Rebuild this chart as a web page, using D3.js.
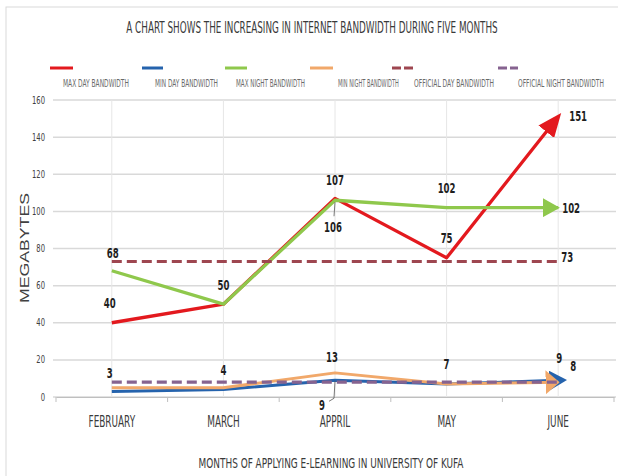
<!DOCTYPE html>
<html><head><meta charset="utf-8">
<script src="https://cdn.jsdelivr.net/npm/d3@7"></script>
<style>
html,body{margin:0;padding:0;background:#fff;}
svg{display:block;}
text{font-family:'Liberation Sans Narrow','DejaVu Sans Condensed','Arial Narrow','Liberation Sans',sans-serif;}
</style></head>
<body>
<svg id="chart" width="618" height="476"></svg>
<script>
// ---- data ----
const months = ["FEBRUARY", "MARCH", "APPRIL", "MAY", "JUNE"];
const maxDay = [40, 50, 107, 75, 151];
const minDay = [3, 4, 9, 7, 9];
const maxNight = [68, 50, 106, 102, 102];
const minNight = [5, 5, 13, 7, 8];
const officialDay = [73, 73, 73, 73, 73];
const officialNight = [8, 8, 8, 8, 8];
const seriesNames = ["MAX DAY BANDWIDTH", "MIN DAY BANDWIDTH", "MAX NIGHT BANDWIDTH",
  "MIN NIGHT BANDWIDTH", "OFFICIAL DAY BANDWIDTH", "OFFICIAL NIGHT BANDWIDTH"];
const yTicks = [0, 20, 40, 60, 80, 100, 120, 140, 160];
const titleText = "A CHART SHOWS THE INCREASING IN INTERNET BANDWIDTH DURING FIVE MONTHS";
const xTitle = "MONTHS OF APPLYING E-LEARNING IN UNIVERSITY OF KUFA";
const yTitle = "MEGABYTES";

// ---- styles / layout ----
const series = [
  {name: seriesNames[0], values: maxDay, color: "#e3191e", dash: null, width: 3.3, arrow: {len: 24, wid: 20, ref: 8}},
  {name: seriesNames[1], values: minDay, color: "#2563ad", dash: null, width: 3, arrow: {len: 18, wid: 20, ref: 5}},
  {name: seriesNames[2], values: maxNight, color: "#8fc84c", dash: null, width: 3.3, arrow: {len: 17, wid: 19, ref: 9}},
  {name: seriesNames[3], values: minNight, color: "#f1a86a", dash: null, width: 3, arrow: {len: 14, wid: 24, ref: 9}},
  {name: seriesNames[4], values: officialDay, color: "#9e4650", dash: "10,5", width: 3.2, arrow: null},
  {name: seriesNames[5], values: officialNight, color: "#866390", dash: "10,5", width: 3.2, arrow: null}
];
const legendLayout = [
  {lx: 50, lw: 23, tx: 63, tw: 66},
  {lx: 142, lw: 21, tx: 155, tw: 63},
  {lx: 225, lw: 22, tx: 236, tw: 69},
  {lx: 310, lw: 23, tx: 338, tw: 61},
  {lx: 392, lw: 21, tx: 414, tw: 80},
  {lx: 498, lw: 20, tx: 518, tw: 86}
];
// label placement: series index, point index, dx, dy (baseline), anchor, leader
const labelPlacement = [
  {s: 0, i: 0, dx: -2, dy: -15}, {s: 0, i: 1, dx: 0, dy: -14}, {s: 0, i: 2, dx: 0, dy: -13},
  {s: 0, i: 3, dx: 0, dy: -15}, {s: 0, i: 4, dx: 11, dy: 4, anchor: "start"},
  {s: 2, i: 0, dx: 1, dy: -13}, {s: 2, i: 2, dx: -2, dy: 32, leader: [[0, 2], [-1, 16]]},
  {s: 2, i: 3, dx: 0, dy: -15}, {s: 2, i: 4, dx: 4, dy: 5, anchor: "start"},
  {s: 1, i: 0, dx: -2, dy: -13}, {s: 1, i: 1, dx: 0, dy: -15},
  {s: 1, i: 2, dx: -13, dy: 30, leader: [[0, 1], [-1, 18], [-6, 21]]},
  {s: 1, i: 3, dx: 0, dy: -15}, {s: 1, i: 4, dx: 1, dy: -17},
  {s: 3, i: 2, dx: -3, dy: -11}, {s: 3, i: 4, dx: 15, dy: -11},
  {s: 4, i: 4, dx: 3, dy: 1, anchor: "start"}
];

const svg = d3.select("#chart");
// place a text at (x,y), horizontally scaled to a given width (or factor)
function place(sel, x, y, opts) {
  const node = sel.node();
  const w = node.getComputedTextLength() || 1;
  const f = opts.width ? opts.width / w : (opts.factor || 1);
  const rot = opts.rotate ? ` rotate(${opts.rotate})` : "";
  sel.attr("x", 0).attr("y", 0).attr("transform", `translate(${x},${y})${rot} scale(${f},1)`);
  return sel;
}

// chart frame
svg.append("rect").attr("x", 6).attr("y", 7).attr("width", 660).attr("height", 520)
  .attr("fill", "#fff").attr("stroke", "#d9d9d9").attr("stroke-width", 1);

const x = d3.scaleBand().domain(months).range([56, 614]);
const cx = m => x(m) + x.bandwidth() / 2;
const y = d3.scaleLinear().domain([0, 160]).range([397, 100]);

// title
place(svg.append("text").attr("text-anchor", "middle").attr("font-size", 15)
  .attr("fill", "#3a3a3a").text(titleText), 312, 33, {width: 372});

// legend
series.forEach((s, k) => {
  const L = legendLayout[k];
  svg.append("line").attr("x1", L.lx).attr("x2", L.lx + L.lw).attr("y1", 68).attr("y2", 68)
    .attr("stroke", s.color).attr("stroke-width", 3)
    .attr("stroke-dasharray", s.dash ? "9,3" : null);
  place(svg.append("text").attr("font-size", 10).attr("fill", "#6a6a6a").text(s.name),
    L.tx, 87, {width: L.tw});
});

// horizontal gridlines
svg.append("g").selectAll("line").data(yTicks).join("line")
  .attr("x1", 53).attr("x2", 616).attr("y1", d => y(d)).attr("y2", d => y(d))
  .attr("stroke", "#d9d9d9").attr("stroke-width", 1.5);
// vertical gridlines
svg.append("g").selectAll("line").data(months).join("line")
  .attr("x1", d => cx(d)).attr("x2", d => cx(d)).attr("y1", y(160)).attr("y2", y(0))
  .attr("stroke", "#e6e6e6").attr("stroke-width", 1);

// y axis labels
const yl = svg.append("g");
yTicks.forEach(t => {
  place(yl.append("text").attr("text-anchor", "end").attr("font-size", 10.5)
    .attr("fill", "#404040").text(t), 45, y(t) + 3.5, {factor: 0.72});
});

// x axis
const xAxisG = svg.append("g").attr("transform", `translate(0,${y(0)})`)
  .call(d3.axisBottom(x).tickSize(0).tickFormat(""));
xAxisG.select(".domain").attr("stroke", "#bfbfbf").attr("stroke-width", 1.2);
const bounds = [56, ...months.slice(1).map(m => x(m)), 614];
svg.append("g").selectAll("line").data(bounds).join("line")
  .attr("x1", d => d).attr("x2", d => d).attr("y1", y(0)).attr("y2", y(0) + 5)
  .attr("stroke", "#bfbfbf").attr("stroke-width", 1);
const xl = svg.append("g");
months.forEach(m => {
  place(xl.append("text").attr("text-anchor", "middle").attr("font-size", 15)
    .attr("fill", "#3a3a3a").text(m), cx(m), 427, {factor: 0.66});
});

// axis titles
place(svg.append("text").attr("text-anchor", "middle").attr("font-size", 14)
  .attr("fill", "#3a3a3a").text(xTitle), 331, 468, {width: 265});
place(svg.append("text").attr("text-anchor", "middle").attr("font-size", 12.5)
  .style("font-family", "'Liberation Sans','DejaVu Sans',sans-serif")
  .attr("fill", "#404040").text(yTitle), 29, 248, {width: 110, rotate: -90});

// arrow markers
const defs = svg.append("defs");
series.forEach((s, k) => {
  if (!s.arrow) return;
  defs.append("marker").attr("id", "arr" + k).attr("markerUnits", "userSpaceOnUse")
    .attr("viewBox", "0 0 10 10").attr("preserveAspectRatio", "none")
    .attr("refX", s.arrow.ref).attr("refY", 5)
    .attr("markerWidth", s.arrow.len).attr("markerHeight", s.arrow.wid)
    .attr("orient", "auto")
    .append("path").attr("d", "M0,0 L10,5 L0,10 Z").attr("fill", s.color);
});

// lines
const line = d3.line().x((d, i) => cx(months[i])).y(d => y(d));
series.forEach((s, k) => {
  svg.append("path").datum(s.values).attr("d", line)
    .attr("fill", "none").attr("stroke", s.color)
    .attr("stroke-width", s.width)
    .attr("stroke-linejoin", "round")
    .attr("stroke-dasharray", s.dash)
    .attr("marker-end", s.arrow ? `url(#arr${k})` : null);
});

// data labels
const lblG = svg.append("g");
labelPlacement.forEach(p => {
  const v = series[p.s].values[p.i];
  const px = cx(months[p.i]), py = y(v);
  if (p.leader) {
    lblG.append("path").attr("d", d3.line()(p.leader.map(q => [px + q[0], py + q[1]])))
      .attr("fill", "none").attr("stroke", "#595959").attr("stroke-width", 0.8);
  }
  place(lblG.append("text").attr("text-anchor", p.anchor || "middle").attr("font-size", 14)
    .attr("font-weight", 600).attr("fill", "#1e1e1e").text(v), px + p.dx, py + p.dy, {factor: 0.68});
});
</script>
</body></html>
